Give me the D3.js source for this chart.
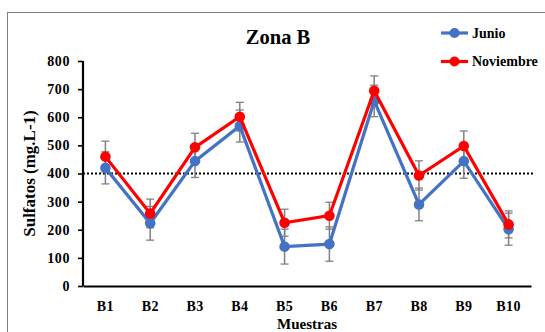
<!DOCTYPE html>
<html>
<head>
<meta charset="utf-8">
<script src="https://cdn.jsdelivr.net/npm/d3@7"></script>
<style>
  html, body { margin: 0; padding: 0; background: #fff; }
  svg { display: block; }
  svg text { font-family: "Liberation Serif", "Times New Roman", serif; font-weight: bold; fill: #000; }
</style>
</head>
<body>
<svg id="chart" width="545" height="332"></svg>
<script>
const categories = ["B1", "B2", "B3", "B4", "B5", "B6", "B7", "B8", "B9", "B10"];
const junio = [420, 223, 444, 569, 140, 149, 658, 290, 444, 202];
const noviembre = [460, 258, 493, 602, 225, 250, 694, 393, 498, 219];
const junioErr = [57, 60, 58, 57, 62, 61, 56, 58, 61, 57];
const noviembreErr = [55, 51, 50, 51, 48, 48, 53, 52, 53, 48];
const yTicks = [0, 100, 200, 300, 400, 500, 600, 700, 800];
const threshold = 400;
const seriesNames = ["Junio", "Noviembre"];

const series = [
  { name: seriesNames[0], values: junio, err: junioErr, color: "#4472C4" },
  { name: seriesNames[1], values: noviembre, err: noviembreErr, color: "#FF0000" }
];

const svg = d3.select("#chart");
const margin = { left: 83, right: 531, top: 61, bottom: 286 };

// outer chart border
svg.append("rect")
  .attr("x", 7.5).attr("y", 12.5)
  .attr("width", 600).attr("height", 400)
  .attr("fill", "none").attr("stroke", "#7f7f7f").attr("stroke-width", 1);

const x = d3.scaleBand().domain(categories).range([margin.left, margin.right]);
const y = d3.scaleLinear().domain([0, 800]).range([margin.bottom, margin.top]);
const cx = c => x(c) + x.bandwidth() / 2;

// y axis
const yAxis = svg.append("g")
  .attr("transform", `translate(${margin.left},0)`)
  .call(d3.axisLeft(y).tickValues(yTicks).tickSize(5).tickPadding(8).tickFormat(d3.format("d")))
  .attr("font-family", null).attr("font-size", null);
yAxis.select(".domain").attr("stroke", "#000").attr("stroke-width", 2.2).attr("d", `M0,${margin.top}V${margin.bottom}`);
yAxis.selectAll(".tick line").attr("stroke", "#000").attr("stroke-width", 1.6);
yAxis.selectAll(".tick text").style("font-size", "14px").style("letter-spacing", "0.6px");

// x axis
const xAxis = svg.append("g")
  .attr("transform", `translate(0,${margin.bottom})`)
  .call(d3.axisBottom(x).tickSize(0).tickPadding(15))
  .attr("font-family", null).attr("font-size", null);
xAxis.select(".domain").attr("stroke", "#000").attr("stroke-width", 2.2);
xAxis.selectAll(".tick text").style("font-size", "14px").style("letter-spacing", "0.4px");

// threshold dotted line
svg.append("line")
  .attr("x1", margin.left).attr("x2", margin.right + 2)
  .attr("y1", y(threshold)).attr("y2", y(threshold))
  .attr("stroke", "#000").attr("stroke-width", 2).attr("stroke-dasharray", "2,2");

// error bars (under lines)
series.forEach(s => {
  const g = svg.append("g");
  categories.forEach((c, i) => {
    const top = y(s.values[i] + s.err[i]), bot = y(s.values[i] - s.err[i]);
    g.append("line").attr("x1", cx(c)).attr("x2", cx(c)).attr("y1", top).attr("y2", bot)
      .attr("stroke", "#808080").attr("stroke-width", 1.5);
    [top, bot].forEach(yy => g.append("line")
      .attr("x1", cx(c) - 4).attr("x2", cx(c) + 4).attr("y1", yy).attr("y2", yy)
      .attr("stroke", "#808080").attr("stroke-width", 1.3));
  });
});

// series lines
const line = d3.line().x((d, i) => cx(categories[i])).y(d => y(d));
series.forEach(s => {
  svg.append("path").datum(s.values)
    .attr("fill", "none").attr("stroke", s.color).attr("stroke-width", 3.2)
    .attr("stroke-linejoin", "miter").attr("d", line);
  svg.append("g").selectAll("circle").data(s.values).join("circle")
    .attr("cx", (d, i) => cx(categories[i])).attr("cy", d => y(d)).attr("r", 5.3)
    .attr("fill", s.color);
});

// title
svg.append("text").attr("x", 278).attr("y", 44).attr("text-anchor", "middle")
  .style("font-size", "20.5px").text("Zona B");

// axis titles
svg.append("text").attr("x", 307).attr("y", 329).attr("text-anchor", "middle")
  .style("font-size", "15px").text("Muestras");
svg.append("text").attr("transform", `translate(35,${(margin.top + margin.bottom) / 2}) rotate(-90)`)
  .attr("text-anchor", "middle").style("font-size", "17px").text("Sulfatos (mg.L-1)");

// legend
const legend = svg.append("g");
series.forEach((s, i) => {
  const ly = 33 + i * 28.5;
  legend.append("line").attr("x1", 441).attr("x2", 468).attr("y1", ly).attr("y2", ly)
    .attr("stroke", s.color).attr("stroke-width", 3.2);
  legend.append("circle").attr("cx", 454.5).attr("cy", ly).attr("r", 5).attr("fill", s.color);
  legend.append("text").attr("x", 472).attr("y", ly + 4.5).style("font-size", "14px").text(s.name);
});
</script>
</body>
</html>
